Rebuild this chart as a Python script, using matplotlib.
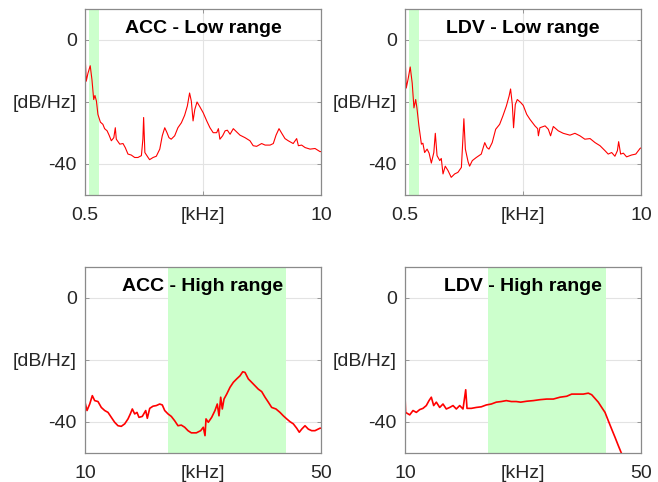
import numpy as np
import matplotlib
matplotlib.use("Agg")
import matplotlib.pyplot as plt

plt.rcParams['font.family'] = ['Liberation Sans', 'DejaVu Sans']

# ---- data (freq in kHz, PSD in dB/Hz) ----
acc_low_f = [0.5, 0.55, 0.62, 0.71, 0.78, 0.85, 0.9, 0.96, 1.02, 1.12, 1.22, 1.29, 1.39, 1.47,
             1.56, 1.66, 1.72, 1.76, 1.9, 2.03, 2.12, 2.23, 2.36, 2.5, 2.63, 2.77, 2.83, 2.86,
             2.91, 3.04, 3.1, 3.24, 3.37, 3.51, 3.61, 3.71, 3.8, 3.88, 3.97, 4.11, 4.24, 4.38,
             4.51, 4.62, 4.71, 4.78, 4.85, 4.92, 5.01, 5.12, 5.26, 5.4, 5.53, 5.66, 5.8, 5.87,
             5.93, 6.04, 6.14, 6.23, 6.34, 6.47, 6.61, 6.74, 6.94, 7.14, 7.27, 7.41, 7.61, 7.75,
             7.95, 8.08, 8.19, 8.31, 8.42, 8.55, 8.68, 8.88, 9.02, 9.09, 9.22, 9.36, 9.56, 9.76,
             9.96, 10.0]
acc_low_db = [-4.3, -13.3, -10.7, -8.3, -12.8, -19.2, -17.9, -19.7, -24.0, -26.5, -27.2, -28.6,
              -29.3, -30.7, -32.5, -31.5, -28.3, -32.0, -33.6, -33.4, -34.7, -36.8, -37.1, -37.9,
              -37.9, -37.3, -32.0, -25.0, -36.3, -37.9, -38.6, -37.9, -37.5, -35.2, -30.9, -28.3,
              -29.9, -31.5, -32.0, -30.9, -28.3, -26.7, -24.3, -21.3, -17.1, -19.7, -26.1, -22.4,
              -20.0, -21.5, -23.5, -26.1, -28.3, -29.9, -29.9, -28.6, -32.0, -30.9, -29.3, -29.1,
              -30.4, -28.6, -29.7, -30.7, -31.5, -32.5, -34.1, -34.3, -33.4, -33.9, -33.9, -33.4,
              -30.7, -28.6, -30.1, -31.8, -32.5, -33.4, -31.8, -34.1, -33.9, -34.7, -35.2, -35.0,
              -36.0, -36.0]

ldv_low_f = [0.5, 0.55, 0.62, 0.71, 0.79, 0.86, 0.93, 0.98, 1.06, 1.16, 1.22, 1.29, 1.39, 1.47,
             1.56, 1.66, 1.72, 1.79, 1.9, 1.96, 2.03, 2.12, 2.23, 2.36, 2.5, 2.63, 2.77, 2.83,
             2.87, 2.93, 3.04, 3.1, 3.21, 3.37, 3.57, 3.71, 3.8, 3.88, 4.01, 4.15, 4.31, 4.44,
             4.58, 4.69, 4.75, 4.82, 4.87, 4.94, 5.02, 5.15, 5.26, 5.4, 5.53, 5.73, 5.84, 5.87,
             5.93, 6.14, 6.27, 6.36, 6.47, 6.67, 6.87, 7.14, 7.34, 7.54, 7.74, 7.95, 8.15, 8.35,
             8.55, 8.68, 8.82, 8.95, 9.05, 9.1, 9.18, 9.29, 9.42, 9.62, 9.79, 9.96, 10.0]
ldv_low_db = [-4.5, -15.5, -12.8, -8.7, -13.9, -21.9, -19.2, -21.9, -27.7, -33.6, -33.3, -36.3,
              -35.2, -36.5, -39.7, -36.3, -30.1, -37.3, -38.9, -38.2, -43.2, -40.7, -42.1, -44.3,
              -43.2, -42.7, -41.1, -32.0, -25.4, -35.2, -39.3, -40.7, -38.9, -37.9, -36.8, -33.1,
              -34.7, -35.2, -33.1, -28.8, -27.2, -24.5, -21.3, -18.1, -15.8, -20.8, -28.3, -20.8,
              -19.2, -20.1, -21.1, -24.0, -25.6, -27.7, -28.6, -30.9, -28.3, -27.7, -28.8, -30.9,
              -27.9, -29.3, -30.1, -30.7, -30.1, -30.9, -32.0, -31.8, -33.1, -34.1, -35.7, -36.8,
              -36.3, -37.5, -35.7, -32.8, -36.8, -36.5, -37.7, -37.1, -36.8, -35.0, -34.8]

acc_high_f = [10.0, 10.34, 10.8, 11.24, 11.64, 12.2, 12.76, 13.34, 13.9, 14.46, 15.03, 15.59,
              16.15, 16.73, 17.29, 17.68, 18.02, 18.42, 18.81, 19.15, 19.71, 20.29, 20.56, 20.97,
              21.53, 22.09, 22.66, 23.1, 23.51, 24.07, 24.63, 25.2, 25.76, 26.32, 26.9, 27.46,
              28.02, 28.87, 29.6, 30.05, 30.34, 30.51, 30.9, 31.47, 32.03, 32.42, 32.71, 33.0,
              33.27, 33.56, 34.02, 34.58, 35.14, 35.71, 36.27, 36.73, 37.12, 37.68, 38.25, 38.81,
              39.37, 39.95, 40.51, 41.07, 41.64, 42.37, 43.05, 43.61, 44.19, 44.75, 45.31, 45.88,
              46.32, 46.73, 47.29, 47.85, 48.42, 48.98, 49.83, 50.0]
acc_high_db = [-33.6, -36.3, -34.2, -31.5, -33.1, -33.4, -35.3, -36.3, -36.9, -38.5, -40.1, -41.2,
               -41.4, -40.6, -39.0, -37.4, -35.8, -37.4, -36.9, -38.5, -38.2, -36.3, -38.8, -35.6,
               -34.9, -34.7, -34.2, -34.5, -36.3, -37.4, -38.2, -39.6, -41.2, -41.0, -41.7, -42.8,
               -43.5, -43.5, -42.8, -41.7, -44.4, -39.0, -40.1, -38.5, -36.3, -34.2, -38.0, -32.0,
               -35.8, -32.6, -31.0, -28.8, -27.2, -26.1, -25.1, -23.8, -24.0, -26.1, -27.2, -28.3,
               -29.4, -30.2, -32.0, -33.6, -35.3, -35.8, -36.9, -38.0, -39.0, -39.9, -40.6, -42.0,
               -43.3, -42.3, -41.2, -42.3, -42.8, -42.8, -42.0, -42.0]

ldv_high_f = [10.0, 10.1, 10.8, 11.36, 11.92, 12.49, 13.05, 13.61, 14.07, 14.46, 14.86, 15.31,
              15.88, 16.44, 17.0, 17.58, 18.14, 18.7, 19.27, 19.83, 20.29, 20.51, 21.24, 22.09,
              22.93, 23.78, 24.63, 25.47, 26.32, 27.17, 28.02, 28.86, 29.6, 30.63, 31.75, 32.88,
              34.02, 35.14, 36.27, 37.4, 38.25, 39.1, 40.22, 41.07, 41.64, 42.2, 42.76, 43.34,
              43.9, 44.46, 45.03, 45.59, 46.15, 46.73]
ldv_high_db = [-31.5, -36.9, -37.7, -36.3, -36.9, -36.0, -35.6, -34.7, -33.1, -32.0, -34.7, -33.6,
               -35.3, -34.2, -35.8, -35.3, -34.7, -35.8, -34.7, -35.8, -29.6, -35.6, -35.6, -35.3,
               -35.1, -34.5, -34.2, -33.6, -33.4, -33.1, -33.4, -33.4, -33.6, -33.3, -33.1, -32.8,
               -32.6, -32.6, -32.0, -31.7, -31.0, -31.0, -31.0, -30.7, -31.2, -32.4, -33.6, -35.3,
               -36.9, -39.6, -42.3, -44.9, -47.6, -50.3]

titles = ['ACC - Low range', 'LDV - Low range', 'ACC - High range', 'LDV - High range']
low_xlim = (0.5, 10)
high_xlim = (10, 50)
low_xticklabels = ['0.5', '[kHz]', '10']
high_xticklabels = ['10', '[kHz]', '50']
yticks = [-40, -20, 0]
yticklabels = ['-40', '[dB/Hz]', '0']
low_band = (0.68, 1.08)
high_band = (24, 44)

fig = plt.figure(figsize=(6.58, 4.82), dpi=100)
W, H = 658, 482
ax_w, ax_h = 236 / W, 186 / H
positions = [(85 / W, 1 - 195 / H), (405 / W, 1 - 195 / H),
             (85 / W, 1 - 453 / H), (405 / W, 1 - 453 / H)]

curves = [(acc_low_f, acc_low_db), (ldv_low_f, ldv_low_db),
          (acc_high_f, acc_high_db), (ldv_high_f, ldv_high_db)]

for i, (pos, (f, db), title) in enumerate(zip(positions, curves, titles)):
    ax = fig.add_axes([pos[0], pos[1], ax_w, ax_h])
    low = i < 2
    xlim = low_xlim if low else high_xlim
    band = low_band if low else high_band
    ax.set_xlim(*xlim)
    ax.set_ylim(-50, 10)
    ax.set_xticks([xlim[0], (xlim[0] + xlim[1]) / 2, xlim[1]])
    ax.set_xticklabels(low_xticklabels if low else high_xticklabels)
    ax.set_yticks(yticks)
    ax.set_yticklabels(yticklabels)
    ax.grid(True, color='#e3e3e3', linewidth=0.8, zorder=0)
    ax.set_axisbelow(True)
    ax.axvspan(band[0], band[1], color='#ccffcc', lw=0, zorder=1)
    ax.plot(f, db, color='red', linewidth=0.8 if low else 1.2, zorder=3)
    ax.text(0.5, 0.895, title, transform=ax.transAxes, ha='center', va='center',
            fontsize=14, fontweight='bold', color='black', zorder=4)
    for s in ax.spines.values():
        s.set_color('#8a8a8a')
        s.set_linewidth(0.9)
        s.set_zorder(5)
    ax.tick_params(direction='in', length=3, width=0.6, colors='#8a8a8a',
                   labelcolor='#262626', labelsize=14, top=True, right=True)
    ax.tick_params(axis='x', pad=9)
    ax.tick_params(axis='y', pad=6)

fig.savefig('out.png', dpi=100)
